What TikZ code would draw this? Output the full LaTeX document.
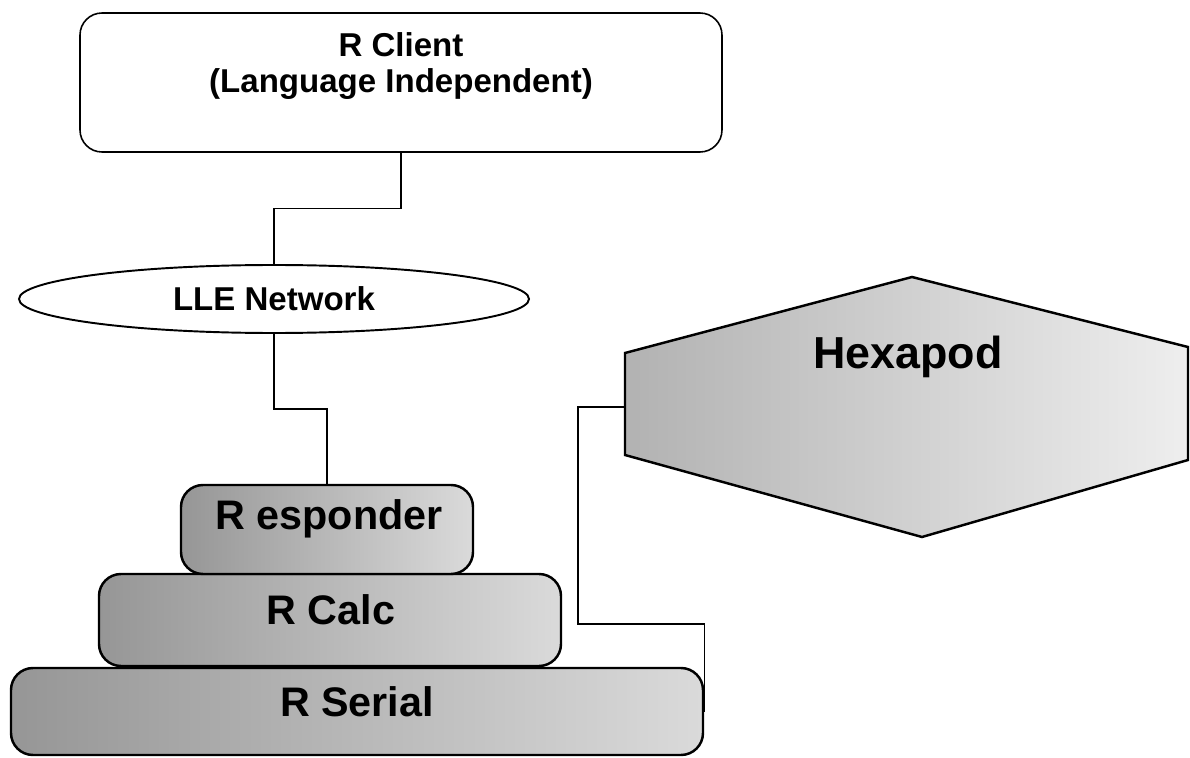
\documentclass[tikz,border=0pt]{standalone}
\usepackage{fontspec}
\setmainfont{Liberation Sans}
\usepackage{tikz}
\usetikzlibrary{shapes,positioning}
\usepackage{xcolor}
\definecolor{layerdark}{RGB}{150,150,150}
\definecolor{layerlight}{RGB}{218,218,218}
\definecolor{hexdark}{RGB}{178,178,178}
\definecolor{hexlight}{RGB}{238,238,238}
\tikzstyle{wire} = [line width=0.8pt, color=black]
\tikzstyle{layer} = [draw, line width=1.4pt, rounded corners=0.44cm, inner sep=0pt, left color=layerdark, right color=layerlight]
\tikzstyle{layertxt} = [font=\fontsize{23.5}{28}\selectfont\bfseries]
\tikzstyle{toptxt} = [font=\fontsize{18.8}{20.5}\selectfont\bfseries, align=center]

\begin{document}
\begin{tikzpicture}
    \useasboundingbox (0,0) rectangle (23.8,15.14);

    % Client box
    \node[draw, line width=0.9pt, rounded corners=0.44cm, minimum width=12.84cm, minimum height=2.78cm] (client) at (8.02,13.49) {};
    \node[toptxt] (clienttxt) at (8.02,13.81) {R Client\\(Language Independent)};

    % Network
    \node[draw, ellipse, line width=1.1pt, minimum width=10.2cm, minimum height=1.36cm, inner sep=0pt, toptxt] (lle) at (5.48,9.16) {LLE Network};

    % Stack of layers
    \node[layer, minimum width=13.84cm, minimum height=1.74cm] (serial) at (7.14,0.91) {};
    \node[layer, minimum width=9.24cm, minimum height=1.84cm] (calc) at (6.6,2.74) {};
    \node[layer, minimum width=5.84cm, minimum height=1.78cm] (resp) at (6.54,4.55) {};
    \node[layertxt] (resptxt) at (6.58,4.76) {R esponder};
    \node[layertxt] (calctxt) at (6.62,2.94) {R Calc};
    \node[layertxt] (serialtxt) at (7.14,1.1) {R Serial};

    % Hexapod
    \coordinate (hexN) at (18.24,9.6);
    \coordinate (hexNE) at (23.76,8.2);
    \coordinate (hexSE) at (23.76,5.94);
    \coordinate (hexS) at (18.44,4.4);
    \coordinate (hexSW) at (12.5,6.04);
    \coordinate (hexNW) at (12.5,8.08);
    \coordinate (hexW) at (12.5,7.0);
    \draw[line width=1.4pt, left color=hexdark, right color=hexlight] (hexN) -- (hexNE) -- (hexSE) -- (hexS) -- (hexSW) -- (hexNW) -- cycle;
    \node[font=\fontsize{25.5}{30}\selectfont\bfseries] (hexapod) at (18.16,8.0) {Hexapod};

    % Connections
    \draw[wire] (client.south) -- ++(0,-1.12) -| (lle.north);
    \draw[wire] (lle.south) -- ++(0,-1.5) -| (resp.north);
    \draw[wire] (hexW) -- ++(-0.94,0) |- ([yshift=1.75cm]serial.east) -- (serial.east);
\end{tikzpicture}
\end{document}
